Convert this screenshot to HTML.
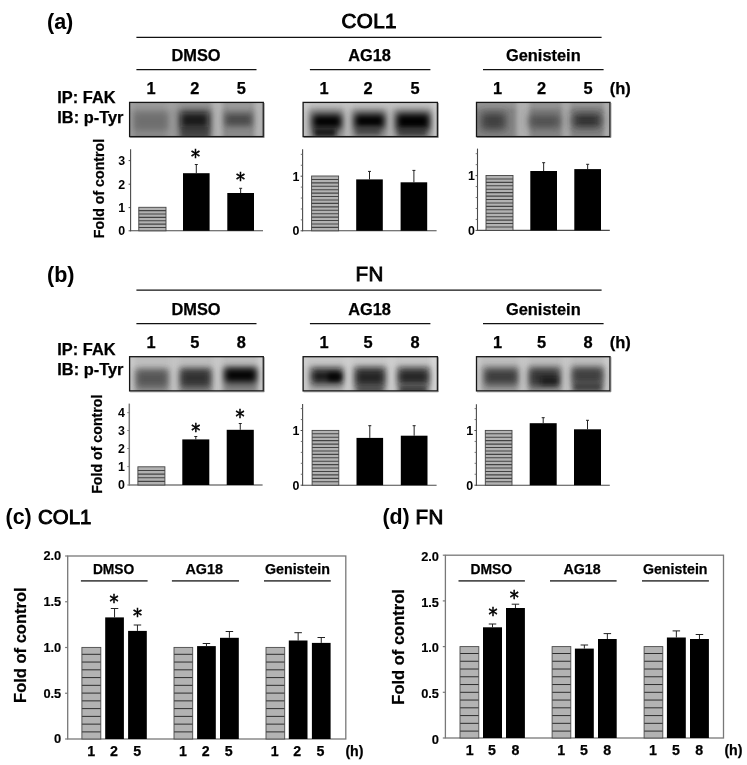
<!DOCTYPE html>
<html lang="en"><head><meta charset="utf-8"><title>Figure</title>
<style>html,body{margin:0;padding:0;background:#fff;}svg{display:block;}text{font-family:"Liberation Sans", sans-serif;stroke:#000;stroke-width:0.25px;}.st{font-family:"DejaVu Sans","Liberation Sans",sans-serif;stroke-width:0.6px;}</style></head><body>
<svg width="747" height="765" viewBox="0 0 747 765">
<defs>
<pattern id="h1" width="4" height="2.93" patternUnits="userSpaceOnUse" y="0"><rect width="4" height="2.93" fill="#b4b4b4"/><rect width="4" height="1" y="0" fill="#4a4a4a"/></pattern>
<pattern id="h2" width="4" height="7.7" patternUnits="userSpaceOnUse"><rect width="4" height="7.7" fill="#b2b2b2"/><rect width="4" height="1" y="0" fill="#3a3a3a"/></pattern>
<filter id="b1" x="-50%" y="-50%" width="200%" height="200%"><feGaussianBlur stdDeviation="1"/></filter>
<filter id="b2" x="-50%" y="-50%" width="200%" height="200%"><feGaussianBlur stdDeviation="2"/></filter>
<filter id="b3" x="-50%" y="-50%" width="200%" height="200%"><feGaussianBlur stdDeviation="3"/></filter>
<filter id="b4" x="-50%" y="-50%" width="200%" height="200%"><feGaussianBlur stdDeviation="4"/></filter>
<filter id="b5" x="-50%" y="-50%" width="200%" height="200%"><feGaussianBlur stdDeviation="5"/></filter>
</defs>
<rect width="747" height="765" fill="#fff"/>
<text x="47" y="28.9" font-size="21.5" text-anchor="start" font-weight="bold" fill="#000" style="stroke-width:0.05px">(a)</text>
<text x="369.2" y="28.15" font-size="20.6" text-anchor="middle" font-weight="normal" fill="#000" style="stroke-width:1.0px;letter-spacing:0.45px">COL1</text>
<line x1="136.4" y1="37.3" x2="601.6" y2="37.3" stroke="#111" stroke-width="1.2"/>
<text x="196" y="60.5" font-size="16.4" text-anchor="middle" font-weight="bold" fill="#000" >DMSO</text>
<line x1="136.4" y1="69.7" x2="256.5" y2="69.7" stroke="#111" stroke-width="1.2"/>
<text x="369.6" y="60.5" font-size="16.4" text-anchor="middle" font-weight="bold" fill="#000" >AG18</text>
<line x1="309.9" y1="69.7" x2="430.4" y2="69.7" stroke="#111" stroke-width="1.2"/>
<text x="543.3" y="60.5" font-size="16.4" text-anchor="middle" font-weight="bold" fill="#000" >Genistein</text>
<line x1="483" y1="69.7" x2="603.6" y2="69.7" stroke="#111" stroke-width="1.2"/>
<text x="151" y="93.5" font-size="16.4" text-anchor="middle" font-weight="bold" fill="#000" >1</text>
<text x="194.8" y="93.5" font-size="16.4" text-anchor="middle" font-weight="bold" fill="#000" >2</text>
<text x="241.2" y="93.5" font-size="16.4" text-anchor="middle" font-weight="bold" fill="#000" >5</text>
<text x="324" y="93.5" font-size="16.4" text-anchor="middle" font-weight="bold" fill="#000" >1</text>
<text x="368" y="93.5" font-size="16.4" text-anchor="middle" font-weight="bold" fill="#000" >2</text>
<text x="415" y="93.5" font-size="16.4" text-anchor="middle" font-weight="bold" fill="#000" >5</text>
<text x="497.5" y="93.5" font-size="16.4" text-anchor="middle" font-weight="bold" fill="#000" >1</text>
<text x="541.6" y="93.5" font-size="16.4" text-anchor="middle" font-weight="bold" fill="#000" >2</text>
<text x="588" y="93.5" font-size="16.4" text-anchor="middle" font-weight="bold" fill="#000" >5</text>
<text x="609.7" y="93.5" font-size="16.5" text-anchor="start" font-weight="bold" fill="#000" >(h)</text>
<text x="57.3" y="102.9" font-size="16.4" text-anchor="start" font-weight="bold" fill="#000" >IP: FAK</text>
<text x="57.3" y="122.6" font-size="16.4" text-anchor="start" font-weight="bold" fill="#000" >IB: p-Tyr</text>
<text x="47" y="281.8" font-size="21.5" text-anchor="start" font-weight="bold" fill="#000" style="stroke-width:0.05px">(b)</text>
<text x="369.7" y="281.4" font-size="20.6" text-anchor="middle" font-weight="normal" fill="#000" style="stroke-width:0.85px;letter-spacing:0.5px">FN</text>
<line x1="136.4" y1="290.2" x2="601.6" y2="290.2" stroke="#111" stroke-width="1.2"/>
<text x="196" y="314.6" font-size="16.4" text-anchor="middle" font-weight="bold" fill="#000" >DMSO</text>
<line x1="136.4" y1="323.7" x2="256.5" y2="323.7" stroke="#111" stroke-width="1.2"/>
<text x="369.6" y="314.6" font-size="16.4" text-anchor="middle" font-weight="bold" fill="#000" >AG18</text>
<line x1="309.9" y1="323.7" x2="430.4" y2="323.7" stroke="#111" stroke-width="1.2"/>
<text x="543.3" y="314.6" font-size="16.4" text-anchor="middle" font-weight="bold" fill="#000" >Genistein</text>
<line x1="483" y1="323.7" x2="603.6" y2="323.7" stroke="#111" stroke-width="1.2"/>
<text x="151" y="347.9" font-size="16.4" text-anchor="middle" font-weight="bold" fill="#000" >1</text>
<text x="194.8" y="347.9" font-size="16.4" text-anchor="middle" font-weight="bold" fill="#000" >5</text>
<text x="241.2" y="347.9" font-size="16.4" text-anchor="middle" font-weight="bold" fill="#000" >8</text>
<text x="324" y="347.9" font-size="16.4" text-anchor="middle" font-weight="bold" fill="#000" >1</text>
<text x="368" y="347.9" font-size="16.4" text-anchor="middle" font-weight="bold" fill="#000" >5</text>
<text x="415" y="347.9" font-size="16.4" text-anchor="middle" font-weight="bold" fill="#000" >8</text>
<text x="497.5" y="347.9" font-size="16.4" text-anchor="middle" font-weight="bold" fill="#000" >1</text>
<text x="541.6" y="347.9" font-size="16.4" text-anchor="middle" font-weight="bold" fill="#000" >5</text>
<text x="588" y="347.9" font-size="16.4" text-anchor="middle" font-weight="bold" fill="#000" >8</text>
<text x="609.7" y="347.9" font-size="16.5" text-anchor="start" font-weight="bold" fill="#000" >(h)</text>
<text x="57.3" y="355.3" font-size="16.4" text-anchor="start" font-weight="bold" fill="#000" >IP: FAK</text>
<text x="57.3" y="375.0" font-size="16.4" text-anchor="start" font-weight="bold" fill="#000" >IB: p-Tyr</text>
<clipPath id="bc1"><rect x="129.6" y="102.4" width="133.7" height="34.2"/></clipPath>
<g clip-path="url(#bc1)">
<rect x="124.6" y="97.4" width="143.7" height="44.2" fill="#8a8a8a"/>
<rect x="125" y="98.4" width="142" height="11" fill="#a0a0a0" opacity="0.7" filter="url(#b2)"/>
<rect x="129" y="98.4" width="5" height="42.2" fill="#a8a8a8" opacity="0.6" filter="url(#b2)"/>
<rect x="167" y="98.4" width="11" height="42.2" fill="#a6a6a6" opacity="0.65" filter="url(#b3)"/>
<rect x="211.5" y="98.4" width="11" height="42.2" fill="#b8b8b8" opacity="0.9" filter="url(#b2)"/>
<rect x="254.5" y="98.4" width="10" height="42.2" fill="#b8b8b8" opacity="0.9" filter="url(#b2)"/>
<rect x="134" y="113" width="34" height="17" fill="#606060" opacity="0.65" filter="url(#b3)"/>
<rect x="179" y="109" width="32" height="29" fill="#444" opacity="0.55" filter="url(#b4)"/>
<rect x="181" y="113" width="27" height="14.5" fill="#080808" opacity="0.85" filter="url(#b3)"/>
<rect x="181" y="127" width="28" height="11" fill="#2c2c2c" opacity="0.6" filter="url(#b2)"/>
<rect x="225" y="113.5" width="27" height="12.5" fill="#363636" opacity="0.75" filter="url(#b3)"/>
</g>
<rect x="129.6" y="102.4" width="133.7" height="34.2" fill="none" stroke="#151515" stroke-width="1.3"/>
<path d="M264.20 102.90V137.50H130.10" fill="none" stroke="#666" stroke-width="0.7"/>
<clipPath id="bc2"><rect x="303.1" y="102.4" width="134.3" height="34.2"/></clipPath>
<g clip-path="url(#bc2)">
<rect x="298.1" y="97.4" width="144.3" height="44.2" fill="#adadad"/>
<rect x="298" y="98.4" width="142" height="10" fill="#c8c8c8" opacity="0.9" filter="url(#b2)"/>
<rect x="302" y="98.4" width="7" height="42.2" fill="#d0d0d0" opacity="0.85" filter="url(#b2)"/>
<rect x="343.5" y="98.4" width="8" height="42.2" fill="#c8c8c8" opacity="0.9" filter="url(#b2)"/>
<rect x="386.5" y="98.4" width="7" height="42.2" fill="#c4c4c4" opacity="0.9" filter="url(#b2)"/>
<rect x="432" y="98.4" width="7" height="42.2" fill="#d2d2d2" opacity="0.9" filter="url(#b2)"/>
<rect x="309" y="110" width="34" height="28" fill="#505050" opacity="0.6" filter="url(#b4)"/>
<rect x="352" y="110" width="34" height="28" fill="#505050" opacity="0.6" filter="url(#b4)"/>
<rect x="394" y="110" width="37" height="28" fill="#505050" opacity="0.6" filter="url(#b4)"/>
<rect x="313" y="115" width="28" height="13" fill="#000" opacity="1.0" filter="url(#b3)"/>
<rect x="314" y="128" width="22" height="9" fill="#0a0a0a" opacity="0.85" filter="url(#b2)"/>
<rect x="355" y="114.5" width="29" height="13.0" fill="#000" opacity="1.0" filter="url(#b3)"/>
<rect x="356" y="127" width="24" height="8" fill="#333" opacity="0.6" filter="url(#b2)"/>
<rect x="397" y="114" width="32" height="15" fill="#050505" opacity="1.0" filter="url(#b3)"/>
<rect x="398" y="128" width="28" height="8" fill="#2a2a2a" opacity="0.7" filter="url(#b2)"/>
</g>
<rect x="303.1" y="102.4" width="134.3" height="34.2" fill="none" stroke="#151515" stroke-width="1.3"/>
<path d="M438.30 102.90V137.50H303.60" fill="none" stroke="#666" stroke-width="0.7"/>
<clipPath id="bc3"><rect x="476.5" y="102.4" width="133.5" height="34.2"/></clipPath>
<g clip-path="url(#bc3)">
<rect x="471.5" y="97.4" width="143.5" height="44.2" fill="#868686"/>
<rect x="472" y="98.4" width="142" height="10" fill="#9a9a9a" opacity="0.7" filter="url(#b2)"/>
<rect x="516.5" y="98.4" width="13" height="42.2" fill="#b4b4b4" opacity="0.9" filter="url(#b2)"/>
<rect x="561.5" y="98.4" width="9" height="42.2" fill="#ababab" opacity="0.9" filter="url(#b2)"/>
<rect x="603.5" y="98.4" width="8" height="42.2" fill="#b0b0b0" opacity="0.9" filter="url(#b2)"/>
<rect x="481" y="112.5" width="25" height="17.5" fill="#333" opacity="0.85" filter="url(#b4)"/>
<rect x="529" y="114.5" width="31" height="13.5" fill="#404040" opacity="0.8" filter="url(#b4)"/>
<rect x="573" y="113.5" width="28" height="14.0" fill="#222" opacity="0.9" filter="url(#b4)"/>
</g>
<rect x="476.5" y="102.4" width="133.5" height="34.2" fill="none" stroke="#151515" stroke-width="1.3"/>
<path d="M610.90 102.90V137.50H477.00" fill="none" stroke="#666" stroke-width="0.7"/>
<clipPath id="bc4"><rect x="129.6" y="356.7" width="133.7" height="34.2"/></clipPath>
<g clip-path="url(#bc4)">
<rect x="124.6" y="351.7" width="143.7" height="44.2" fill="#b0b0b0"/>
<rect x="125" y="352.7" width="142" height="15" fill="#c0c0c0" opacity="0.9" filter="url(#b2)"/>
<rect x="129" y="352.7" width="6" height="42.2" fill="#cccccc" opacity="0.8" filter="url(#b2)"/>
<rect x="169" y="352.7" width="11" height="42.2" fill="#c4c4c4" opacity="0.9" filter="url(#b2)"/>
<rect x="212.5" y="352.7" width="10" height="42.2" fill="#c8c8c8" opacity="0.9" filter="url(#b2)"/>
<rect x="257.5" y="352.7" width="7" height="42.2" fill="#d0d0d0" opacity="0.9" filter="url(#b2)"/>
<rect x="136" y="369" width="32" height="23" fill="#6a6a6a" opacity="0.7" filter="url(#b3)"/>
<rect x="137" y="371" width="30" height="15" fill="#4a4a4a" opacity="0.75" filter="url(#b3)"/>
<rect x="180" y="368" width="31" height="25" fill="#5a5a5a" opacity="0.7" filter="url(#b3)"/>
<rect x="181" y="370" width="29" height="16" fill="#262626" opacity="0.85" filter="url(#b3)"/>
<rect x="224" y="367" width="33" height="25" fill="#606060" opacity="0.7" filter="url(#b3)"/>
<rect x="225" y="368.5" width="31" height="13.5" fill="#050505" opacity="0.97" filter="url(#b3)"/>
</g>
<rect x="129.6" y="356.7" width="133.7" height="34.2" fill="none" stroke="#151515" stroke-width="1.3"/>
<path d="M264.20 357.20V391.80H130.10" fill="none" stroke="#666" stroke-width="0.7"/>
<clipPath id="bc5"><rect x="303.1" y="356.7" width="134.3" height="34.2"/></clipPath>
<g clip-path="url(#bc5)">
<rect x="298.1" y="351.7" width="144.3" height="44.2" fill="#b6b6b6"/>
<rect x="298" y="352.7" width="142" height="13" fill="#cacaca" opacity="0.9" filter="url(#b2)"/>
<rect x="302" y="352.7" width="6" height="42.2" fill="#d0d0d0" opacity="0.8" filter="url(#b2)"/>
<rect x="343" y="352.7" width="10" height="42.2" fill="#cecece" opacity="0.9" filter="url(#b2)"/>
<rect x="386.5" y="352.7" width="10" height="42.2" fill="#cecece" opacity="0.9" filter="url(#b2)"/>
<rect x="430.5" y="352.7" width="8" height="42.2" fill="#d6d6d6" opacity="0.9" filter="url(#b2)"/>
<rect x="311" y="367" width="32" height="21" fill="#666" opacity="0.65" filter="url(#b3)"/>
<rect x="355" y="367" width="30" height="26" fill="#5c5c5c" opacity="0.7" filter="url(#b3)"/>
<rect x="398" y="367" width="31" height="26" fill="#5c5c5c" opacity="0.7" filter="url(#b3)"/>
<rect x="312" y="370" width="30" height="12.5" fill="#141414" opacity="0.95" filter="url(#b3)"/>
<rect x="328" y="373" width="13" height="8" fill="#000" opacity="0.8" filter="url(#b2)"/>
<rect x="356" y="369.5" width="28" height="15.5" fill="#1c1c1c" opacity="0.9" filter="url(#b3)"/>
<rect x="358" y="386" width="24" height="6" fill="#333" opacity="0.6" filter="url(#b2)"/>
<rect x="399" y="370" width="29" height="13.5" fill="#1a1a1a" opacity="0.9" filter="url(#b3)"/>
<rect x="400" y="387" width="26" height="5" fill="#1c1c1c" opacity="0.75" filter="url(#b2)"/>
</g>
<rect x="303.1" y="356.7" width="134.3" height="34.2" fill="none" stroke="#151515" stroke-width="1.3"/>
<path d="M438.30 357.20V391.80H303.60" fill="none" stroke="#666" stroke-width="0.7"/>
<clipPath id="bc6"><rect x="476.5" y="356.7" width="133.5" height="34.2"/></clipPath>
<g clip-path="url(#bc6)">
<rect x="471.5" y="351.7" width="143.5" height="44.2" fill="#aeaeae"/>
<rect x="472" y="352.7" width="142" height="13" fill="#c0c0c0" opacity="0.9" filter="url(#b2)"/>
<rect x="475" y="352.7" width="6" height="42.2" fill="#cccccc" opacity="0.8" filter="url(#b2)"/>
<rect x="518" y="352.7" width="11" height="42.2" fill="#c6c6c6" opacity="0.9" filter="url(#b2)"/>
<rect x="561.5" y="352.7" width="10" height="42.2" fill="#c6c6c6" opacity="0.9" filter="url(#b2)"/>
<rect x="604" y="352.7" width="8" height="42.2" fill="#cccccc" opacity="0.9" filter="url(#b2)"/>
<rect x="484" y="367" width="34" height="22" fill="#666" opacity="0.65" filter="url(#b3)"/>
<rect x="529" y="367" width="31" height="24" fill="#606060" opacity="0.7" filter="url(#b3)"/>
<rect x="572" y="367" width="31" height="26" fill="#5c5c5c" opacity="0.7" filter="url(#b3)"/>
<rect x="485" y="370" width="32" height="13.5" fill="#303030" opacity="0.85" filter="url(#b3)"/>
<rect x="530" y="369.5" width="29" height="16.0" fill="#2a2a2a" opacity="0.88" filter="url(#b3)"/>
<rect x="541" y="377" width="17" height="8" fill="#0c0c0c" opacity="0.6" filter="url(#b2)"/>
<rect x="573" y="369" width="29" height="13.5" fill="#343434" opacity="0.85" filter="url(#b3)"/>
<rect x="574" y="383" width="27" height="7.5" fill="#303030" opacity="0.75" filter="url(#b2)"/>
</g>
<rect x="476.5" y="356.7" width="133.5" height="34.2" fill="none" stroke="#151515" stroke-width="1.3"/>
<path d="M610.90 357.20V391.80H477.00" fill="none" stroke="#666" stroke-width="0.7"/>
<line x1="130.6" y1="149.2" x2="130.6" y2="231.3" stroke="#4a4a4a" stroke-width="1.1"/>
<line x1="130.1" y1="230.8" x2="263" y2="230.8" stroke="#4a4a4a" stroke-width="1.1"/>
<line x1="128.6" y1="160.6" x2="130.6" y2="160.6" stroke="#4a4a4a" stroke-width="1"/>
<text x="125.2" y="164.9" font-size="12.4" text-anchor="end" font-weight="bold" fill="#000" style="stroke-width:0">3</text>
<line x1="128.6" y1="184.2" x2="130.6" y2="184.2" stroke="#4a4a4a" stroke-width="1"/>
<text x="125.2" y="188.5" font-size="12.4" text-anchor="end" font-weight="bold" fill="#000" style="stroke-width:0">2</text>
<line x1="128.6" y1="207.6" x2="130.6" y2="207.6" stroke="#4a4a4a" stroke-width="1"/>
<text x="125.2" y="211.9" font-size="12.4" text-anchor="end" font-weight="bold" fill="#000" style="stroke-width:0">1</text>
<line x1="128.6" y1="230.8" x2="130.6" y2="230.8" stroke="#4a4a4a" stroke-width="1"/>
<text x="125.2" y="235.10000000000002" font-size="12.4" text-anchor="end" font-weight="bold" fill="#000" style="stroke-width:0">0</text>
<rect x="138.80" y="207.30" width="27.20" height="23.50" fill="#b2b2b2"/>
<path d="M138.80 210.66H166.00M138.80 214.01H166.00M138.80 217.37H166.00M138.80 220.73H166.00M138.80 224.09H166.00M138.80 227.44H166.00" stroke="#444" stroke-width="1.1" fill="none"/>
<rect x="138.80" y="207.30" width="27.20" height="23.50" fill="none" stroke="#444" stroke-width="0.9"/>
<line x1="196.3" y1="164.5" x2="196.3" y2="173.2" stroke="#222" stroke-width="1"/>
<line x1="194.8" y1="164.5" x2="197.8" y2="164.5" stroke="#222" stroke-width="1"/>
<rect x="183.00" y="173.20" width="26.60" height="57.60" fill="#000" />
<line x1="240.65" y1="188.3" x2="240.65" y2="193" stroke="#222" stroke-width="1"/>
<line x1="239.15" y1="188.3" x2="242.15" y2="188.3" stroke="#222" stroke-width="1"/>
<rect x="227.30" y="193.00" width="26.70" height="37.80" fill="#000" />
<text transform="translate(195.4,152.6) scale(0.9,1)" x="0.1" y="10.40" font-size="20" text-anchor="middle" font-weight="normal" class="st">*</text>
<text transform="translate(240.4,175.8) scale(0.9,1)" x="0.1" y="10.40" font-size="20" text-anchor="middle" font-weight="normal" class="st">*</text>
<text transform="translate(103.9,188.5) rotate(-90)" font-size="14.2" text-anchor="middle" font-weight="bold">Fold of control</text>
<line x1="302.6" y1="149.2" x2="302.6" y2="231.3" stroke="#4a4a4a" stroke-width="1.1"/>
<line x1="302.1" y1="230.8" x2="436.6" y2="230.8" stroke="#4a4a4a" stroke-width="1.1"/>
<line x1="300.6" y1="176.2" x2="302.6" y2="176.2" stroke="#4a4a4a" stroke-width="1"/>
<text x="299.3" y="180.5" font-size="12.4" text-anchor="end" font-weight="bold" fill="#000" style="stroke-width:0">1</text>
<line x1="300.6" y1="230.8" x2="302.6" y2="230.8" stroke="#4a4a4a" stroke-width="1"/>
<text x="299.3" y="235.10000000000002" font-size="12.4" text-anchor="end" font-weight="bold" fill="#000" style="stroke-width:0">0</text>
<line x1="300.8" y1="219.88" x2="302.6" y2="219.88" stroke="#666" stroke-width="0.9"/>
<line x1="300.8" y1="208.96" x2="302.6" y2="208.96" stroke="#666" stroke-width="0.9"/>
<line x1="300.8" y1="198.04" x2="302.6" y2="198.04" stroke="#666" stroke-width="0.9"/>
<line x1="300.8" y1="187.12" x2="302.6" y2="187.12" stroke="#666" stroke-width="0.9"/>
<line x1="300.8" y1="165.27999999999997" x2="302.6" y2="165.27999999999997" stroke="#666" stroke-width="0.9"/>
<line x1="300.8" y1="154.35999999999996" x2="302.6" y2="154.35999999999996" stroke="#666" stroke-width="0.9"/>
<rect x="311.60" y="176.00" width="27.00" height="54.80" fill="#b2b2b2"/>
<path d="M311.60 179.43H338.60M311.60 182.85H338.60M311.60 186.28H338.60M311.60 189.70H338.60M311.60 193.12H338.60M311.60 196.55H338.60M311.60 199.97H338.60M311.60 203.40H338.60M311.60 206.83H338.60M311.60 210.25H338.60M311.60 213.68H338.60M311.60 217.10H338.60M311.60 220.53H338.60M311.60 223.95H338.60M311.60 227.38H338.60" stroke="#444" stroke-width="1.1" fill="none"/>
<rect x="311.60" y="176.00" width="27.00" height="54.80" fill="none" stroke="#444" stroke-width="0.9"/>
<line x1="369.5" y1="171.4" x2="369.5" y2="179.4" stroke="#222" stroke-width="1"/>
<line x1="368.0" y1="171.4" x2="371.0" y2="171.4" stroke="#222" stroke-width="1"/>
<rect x="356.20" y="179.40" width="26.60" height="51.40" fill="#000" />
<line x1="413.9" y1="170.4" x2="413.9" y2="182.3" stroke="#222" stroke-width="1"/>
<line x1="412.4" y1="170.4" x2="415.4" y2="170.4" stroke="#222" stroke-width="1"/>
<rect x="400.60" y="182.30" width="26.60" height="48.50" fill="#000" />
<line x1="477.5" y1="148.6" x2="477.5" y2="230.9" stroke="#4a4a4a" stroke-width="1.1"/>
<line x1="477.0" y1="230.4" x2="609.8" y2="230.4" stroke="#4a4a4a" stroke-width="1.1"/>
<line x1="475.5" y1="175.6" x2="477.5" y2="175.6" stroke="#4a4a4a" stroke-width="1"/>
<text x="475.0" y="179.9" font-size="12.4" text-anchor="end" font-weight="bold" fill="#000" style="stroke-width:0">1</text>
<line x1="475.5" y1="230.4" x2="477.5" y2="230.4" stroke="#4a4a4a" stroke-width="1"/>
<text x="475.0" y="234.70000000000002" font-size="12.4" text-anchor="end" font-weight="bold" fill="#000" style="stroke-width:0">0</text>
<line x1="475.7" y1="219.44" x2="477.5" y2="219.44" stroke="#666" stroke-width="0.9"/>
<line x1="475.7" y1="208.48" x2="477.5" y2="208.48" stroke="#666" stroke-width="0.9"/>
<line x1="475.7" y1="197.51999999999998" x2="477.5" y2="197.51999999999998" stroke="#666" stroke-width="0.9"/>
<line x1="475.7" y1="186.56" x2="477.5" y2="186.56" stroke="#666" stroke-width="0.9"/>
<line x1="475.7" y1="164.64" x2="477.5" y2="164.64" stroke="#666" stroke-width="0.9"/>
<line x1="475.7" y1="153.68" x2="477.5" y2="153.68" stroke="#666" stroke-width="0.9"/>
<rect x="486.00" y="175.50" width="27.00" height="54.90" fill="#b2b2b2"/>
<path d="M486.00 178.93H513.00M486.00 182.36H513.00M486.00 185.79H513.00M486.00 189.22H513.00M486.00 192.66H513.00M486.00 196.09H513.00M486.00 199.52H513.00M486.00 202.95H513.00M486.00 206.38H513.00M486.00 209.81H513.00M486.00 213.24H513.00M486.00 216.68H513.00M486.00 220.11H513.00M486.00 223.54H513.00M486.00 226.97H513.00" stroke="#444" stroke-width="1.1" fill="none"/>
<rect x="486.00" y="175.50" width="27.00" height="54.90" fill="none" stroke="#444" stroke-width="0.9"/>
<line x1="543.65" y1="162.7" x2="543.65" y2="171" stroke="#222" stroke-width="1"/>
<line x1="542.15" y1="162.7" x2="545.15" y2="162.7" stroke="#222" stroke-width="1"/>
<rect x="530.30" y="171.00" width="26.70" height="59.40" fill="#000" />
<line x1="587.65" y1="164.3" x2="587.65" y2="169.1" stroke="#222" stroke-width="1"/>
<line x1="586.15" y1="164.3" x2="589.15" y2="164.3" stroke="#222" stroke-width="1"/>
<rect x="574.30" y="169.10" width="26.70" height="61.30" fill="#000" />
<line x1="129.3" y1="403.6" x2="129.3" y2="485.5" stroke="#7c7c7c" stroke-width="1.5"/>
<line x1="128.8" y1="485" x2="262.6" y2="485" stroke="#7c7c7c" stroke-width="1.5"/>
<line x1="127.30000000000001" y1="412.7" x2="129.3" y2="412.7" stroke="#7c7c7c" stroke-width="1"/>
<text x="125.0" y="417.0" font-size="12.4" text-anchor="end" font-weight="bold" fill="#000" style="stroke-width:0">4</text>
<line x1="127.30000000000001" y1="430.5" x2="129.3" y2="430.5" stroke="#7c7c7c" stroke-width="1"/>
<text x="125.0" y="434.8" font-size="12.4" text-anchor="end" font-weight="bold" fill="#000" style="stroke-width:0">3</text>
<line x1="127.30000000000001" y1="448.5" x2="129.3" y2="448.5" stroke="#7c7c7c" stroke-width="1"/>
<text x="125.0" y="452.8" font-size="12.4" text-anchor="end" font-weight="bold" fill="#000" style="stroke-width:0">2</text>
<line x1="127.30000000000001" y1="466.6" x2="129.3" y2="466.6" stroke="#7c7c7c" stroke-width="1"/>
<text x="125.0" y="470.90000000000003" font-size="12.4" text-anchor="end" font-weight="bold" fill="#000" style="stroke-width:0">1</text>
<line x1="127.30000000000001" y1="485" x2="129.3" y2="485" stroke="#7c7c7c" stroke-width="1"/>
<text x="125.0" y="489.3" font-size="12.4" text-anchor="end" font-weight="bold" fill="#000" style="stroke-width:0">0</text>
<rect x="137.90" y="466.80" width="27.00" height="18.20" fill="#b2b2b2"/>
<path d="M137.90 470.44H164.90M137.90 474.08H164.90M137.90 477.72H164.90M137.90 481.36H164.90" stroke="#444" stroke-width="1.1" fill="none"/>
<rect x="137.90" y="466.80" width="27.00" height="18.20" fill="none" stroke="#444" stroke-width="0.9"/>
<line x1="195.8" y1="436.5" x2="195.8" y2="439.4" stroke="#222" stroke-width="1"/>
<line x1="194.3" y1="436.5" x2="197.3" y2="436.5" stroke="#222" stroke-width="1"/>
<rect x="182.30" y="439.40" width="27.00" height="45.60" fill="#000" />
<line x1="240.25" y1="423.5" x2="240.25" y2="429.8" stroke="#222" stroke-width="1"/>
<line x1="238.75" y1="423.5" x2="241.75" y2="423.5" stroke="#222" stroke-width="1"/>
<rect x="226.70" y="429.80" width="27.10" height="55.20" fill="#000" />
<text transform="translate(195.7,426.3) scale(0.9,1)" x="0.1" y="10.40" font-size="20" text-anchor="middle" font-weight="normal" class="st">*</text>
<text transform="translate(239.8,412.4) scale(0.9,1)" x="0.1" y="10.40" font-size="20" text-anchor="middle" font-weight="normal" class="st">*</text>
<text transform="translate(102.2,444.2) rotate(-90)" font-size="14.2" text-anchor="middle" font-weight="bold">Fold of control</text>
<line x1="302.6" y1="403.9" x2="302.6" y2="485.7" stroke="#4a4a4a" stroke-width="1.1"/>
<line x1="302.1" y1="485.2" x2="436.6" y2="485.2" stroke="#4a4a4a" stroke-width="1.1"/>
<line x1="300.6" y1="430.5" x2="302.6" y2="430.5" stroke="#4a4a4a" stroke-width="1"/>
<text x="299.3" y="434.8" font-size="12.4" text-anchor="end" font-weight="bold" fill="#000" style="stroke-width:0">1</text>
<line x1="300.6" y1="485.2" x2="302.6" y2="485.2" stroke="#4a4a4a" stroke-width="1"/>
<text x="299.3" y="489.5" font-size="12.4" text-anchor="end" font-weight="bold" fill="#000" style="stroke-width:0">0</text>
<line x1="300.8" y1="474.26" x2="302.6" y2="474.26" stroke="#666" stroke-width="0.9"/>
<line x1="300.8" y1="463.32" x2="302.6" y2="463.32" stroke="#666" stroke-width="0.9"/>
<line x1="300.8" y1="452.38" x2="302.6" y2="452.38" stroke="#666" stroke-width="0.9"/>
<line x1="300.8" y1="441.44" x2="302.6" y2="441.44" stroke="#666" stroke-width="0.9"/>
<line x1="300.8" y1="419.56" x2="302.6" y2="419.56" stroke="#666" stroke-width="0.9"/>
<line x1="300.8" y1="408.62" x2="302.6" y2="408.62" stroke="#666" stroke-width="0.9"/>
<rect x="312.10" y="430.40" width="26.70" height="54.80" fill="#b2b2b2"/>
<path d="M312.10 433.82H338.80M312.10 437.25H338.80M312.10 440.67H338.80M312.10 444.10H338.80M312.10 447.52H338.80M312.10 450.95H338.80M312.10 454.38H338.80M312.10 457.80H338.80M312.10 461.22H338.80M312.10 464.65H338.80M312.10 468.07H338.80M312.10 471.50H338.80M312.10 474.92H338.80M312.10 478.35H338.80M312.10 481.77H338.80" stroke="#444" stroke-width="1.1" fill="none"/>
<rect x="312.10" y="430.40" width="26.70" height="54.80" fill="none" stroke="#444" stroke-width="0.9"/>
<line x1="369.8" y1="425.7" x2="369.8" y2="437.9" stroke="#222" stroke-width="1"/>
<line x1="368.3" y1="425.7" x2="371.3" y2="425.7" stroke="#222" stroke-width="1"/>
<rect x="356.50" y="437.90" width="26.60" height="47.30" fill="#000" />
<line x1="414.15" y1="425.7" x2="414.15" y2="435.7" stroke="#222" stroke-width="1"/>
<line x1="412.65" y1="425.7" x2="415.65" y2="425.7" stroke="#222" stroke-width="1"/>
<rect x="400.80" y="435.70" width="26.70" height="49.50" fill="#000" />
<line x1="476.4" y1="404.3" x2="476.4" y2="485.7" stroke="#4a4a4a" stroke-width="1.1"/>
<line x1="475.9" y1="485.2" x2="609.8" y2="485.2" stroke="#4a4a4a" stroke-width="1.1"/>
<line x1="474.4" y1="430.5" x2="476.4" y2="430.5" stroke="#4a4a4a" stroke-width="1"/>
<text x="473.1" y="434.8" font-size="12.4" text-anchor="end" font-weight="bold" fill="#000" style="stroke-width:0">1</text>
<line x1="474.4" y1="485.2" x2="476.4" y2="485.2" stroke="#4a4a4a" stroke-width="1"/>
<text x="473.1" y="489.5" font-size="12.4" text-anchor="end" font-weight="bold" fill="#000" style="stroke-width:0">0</text>
<line x1="474.59999999999997" y1="474.26" x2="476.4" y2="474.26" stroke="#666" stroke-width="0.9"/>
<line x1="474.59999999999997" y1="463.32" x2="476.4" y2="463.32" stroke="#666" stroke-width="0.9"/>
<line x1="474.59999999999997" y1="452.38" x2="476.4" y2="452.38" stroke="#666" stroke-width="0.9"/>
<line x1="474.59999999999997" y1="441.44" x2="476.4" y2="441.44" stroke="#666" stroke-width="0.9"/>
<line x1="474.59999999999997" y1="419.56" x2="476.4" y2="419.56" stroke="#666" stroke-width="0.9"/>
<line x1="474.59999999999997" y1="408.62" x2="476.4" y2="408.62" stroke="#666" stroke-width="0.9"/>
<rect x="485.30" y="430.40" width="26.70" height="54.80" fill="#b2b2b2"/>
<path d="M485.30 433.82H512.00M485.30 437.25H512.00M485.30 440.67H512.00M485.30 444.10H512.00M485.30 447.52H512.00M485.30 450.95H512.00M485.30 454.38H512.00M485.30 457.80H512.00M485.30 461.22H512.00M485.30 464.65H512.00M485.30 468.07H512.00M485.30 471.50H512.00M485.30 474.92H512.00M485.30 478.35H512.00M485.30 481.77H512.00" stroke="#444" stroke-width="1.1" fill="none"/>
<rect x="485.30" y="430.40" width="26.70" height="54.80" fill="none" stroke="#444" stroke-width="0.9"/>
<line x1="543.2" y1="417.7" x2="543.2" y2="423.2" stroke="#222" stroke-width="1"/>
<line x1="541.7" y1="417.7" x2="544.7" y2="417.7" stroke="#222" stroke-width="1"/>
<rect x="529.70" y="423.20" width="27.00" height="62.00" fill="#000" />
<line x1="587.5" y1="420.3" x2="587.5" y2="429.3" stroke="#222" stroke-width="1"/>
<line x1="586.0" y1="420.3" x2="589.0" y2="420.3" stroke="#222" stroke-width="1"/>
<rect x="574.00" y="429.30" width="27.00" height="55.90" fill="#000" />
<text x="5.6" y="524.2" font-size="21.4" text-anchor="start" font-weight="bold" fill="#000" style="stroke-width:0">(c)</text>
<text x="37.9" y="523.9" font-size="20.4" text-anchor="start" font-weight="normal" fill="#000" style="stroke-width:0.95px;letter-spacing:0.1px">COL1</text>
<rect x="67.7" y="556.0" width="278.10" height="183.00" fill="none" stroke="#787878" stroke-width="1.3"/>
<line x1="65.10000000000001" y1="739.0" x2="67.7" y2="739.0" stroke="#787878" stroke-width="1.2"/>
<text x="61.2" y="743.3" font-size="12.2" text-anchor="end" font-weight="bold" fill="#000" style="stroke-width:0.15px" textLength="7.2" lengthAdjust="spacingAndGlyphs">0</text>
<line x1="65.10000000000001" y1="693.25" x2="67.7" y2="693.25" stroke="#787878" stroke-width="1.2"/>
<text x="61.2" y="697.55" font-size="12.2" text-anchor="end" font-weight="bold" fill="#000" style="stroke-width:0.15px" textLength="17.8" lengthAdjust="spacingAndGlyphs">0.5</text>
<line x1="65.10000000000001" y1="647.5" x2="67.7" y2="647.5" stroke="#787878" stroke-width="1.2"/>
<text x="61.2" y="651.8" font-size="12.2" text-anchor="end" font-weight="bold" fill="#000" style="stroke-width:0.15px" textLength="17.8" lengthAdjust="spacingAndGlyphs">1.0</text>
<line x1="65.10000000000001" y1="601.75" x2="67.7" y2="601.75" stroke="#787878" stroke-width="1.2"/>
<text x="61.2" y="606.05" font-size="12.2" text-anchor="end" font-weight="bold" fill="#000" style="stroke-width:0.15px" textLength="17.8" lengthAdjust="spacingAndGlyphs">1.5</text>
<line x1="65.10000000000001" y1="556.0" x2="67.7" y2="556.0" stroke="#787878" stroke-width="1.2"/>
<text x="61.2" y="560.3" font-size="12.2" text-anchor="end" font-weight="bold" fill="#000" style="stroke-width:0.15px" textLength="17.8" lengthAdjust="spacingAndGlyphs">2.0</text>
<rect x="81.90" y="647.40" width="18.90" height="91.60" fill="#b3b3b3"/>
<path d="M81.90 654.30H100.80M81.90 662.06H100.80M81.90 669.82H100.80M81.90 677.58H100.80M81.90 685.34H100.80M81.90 693.10H100.80M81.90 700.86H100.80M81.90 708.62H100.80M81.90 716.38H100.80M81.90 724.14H100.80M81.90 731.90H100.80" stroke="#2e2e2e" stroke-width="1.0" fill="none"/>
<rect x="81.90" y="647.40" width="18.90" height="91.60" fill="none" stroke="#4a4a4a" stroke-width="0.9"/>
<line x1="114.55000000000001" y1="608.5" x2="114.55000000000001" y2="617.4" stroke="#222" stroke-width="1"/>
<line x1="110.80000000000001" y1="608.5" x2="118.30000000000001" y2="608.5" stroke="#222" stroke-width="1"/>
<rect x="105.20" y="617.40" width="18.70" height="121.60" fill="#000" />
<line x1="137.45" y1="625.0" x2="137.45" y2="630.9" stroke="#222" stroke-width="1"/>
<line x1="133.7" y1="625.0" x2="141.2" y2="625.0" stroke="#222" stroke-width="1"/>
<rect x="128.10" y="630.90" width="18.70" height="108.10" fill="#000" />
<rect x="174.00" y="647.40" width="18.70" height="91.60" fill="#b3b3b3"/>
<path d="M174.00 654.30H192.70M174.00 662.06H192.70M174.00 669.82H192.70M174.00 677.58H192.70M174.00 685.34H192.70M174.00 693.10H192.70M174.00 700.86H192.70M174.00 708.62H192.70M174.00 716.38H192.70M174.00 724.14H192.70M174.00 731.90H192.70" stroke="#2e2e2e" stroke-width="1.0" fill="none"/>
<rect x="174.00" y="647.40" width="18.70" height="91.60" fill="none" stroke="#4a4a4a" stroke-width="0.9"/>
<line x1="206.45" y1="643.5" x2="206.45" y2="646.1" stroke="#222" stroke-width="1"/>
<line x1="202.7" y1="643.5" x2="210.2" y2="643.5" stroke="#222" stroke-width="1"/>
<rect x="197.10" y="646.10" width="18.70" height="92.90" fill="#000" />
<line x1="229.4" y1="631.5" x2="229.4" y2="637.8" stroke="#222" stroke-width="1"/>
<line x1="225.65" y1="631.5" x2="233.15" y2="631.5" stroke="#222" stroke-width="1"/>
<rect x="220.00" y="637.80" width="18.80" height="101.20" fill="#000" />
<rect x="266.00" y="647.40" width="18.70" height="91.60" fill="#b3b3b3"/>
<path d="M266.00 654.30H284.70M266.00 662.06H284.70M266.00 669.82H284.70M266.00 677.58H284.70M266.00 685.34H284.70M266.00 693.10H284.70M266.00 700.86H284.70M266.00 708.62H284.70M266.00 716.38H284.70M266.00 724.14H284.70M266.00 731.90H284.70" stroke="#2e2e2e" stroke-width="1.0" fill="none"/>
<rect x="266.00" y="647.40" width="18.70" height="91.60" fill="none" stroke="#4a4a4a" stroke-width="0.9"/>
<line x1="298.15" y1="632.7" x2="298.15" y2="640.5" stroke="#222" stroke-width="1"/>
<line x1="294.4" y1="632.7" x2="301.9" y2="632.7" stroke="#222" stroke-width="1"/>
<rect x="288.80" y="640.50" width="18.70" height="98.50" fill="#000" />
<line x1="321.25" y1="637.5" x2="321.25" y2="642.9" stroke="#222" stroke-width="1"/>
<line x1="317.5" y1="637.5" x2="325.0" y2="637.5" stroke="#222" stroke-width="1"/>
<rect x="311.90" y="642.90" width="18.70" height="96.10" fill="#000" />
<text x="91.3" y="755.8" font-size="14.2" text-anchor="middle" font-weight="bold" fill="#000" >1</text>
<text x="114.0" y="755.8" font-size="14.2" text-anchor="middle" font-weight="bold" fill="#000" >2</text>
<text x="137.10000000000002" y="755.8" font-size="14.2" text-anchor="middle" font-weight="bold" fill="#000" >5</text>
<text x="182.9" y="755.8" font-size="14.2" text-anchor="middle" font-weight="bold" fill="#000" >1</text>
<text x="205.70000000000002" y="755.8" font-size="14.2" text-anchor="middle" font-weight="bold" fill="#000" >2</text>
<text x="228.70000000000002" y="755.8" font-size="14.2" text-anchor="middle" font-weight="bold" fill="#000" >5</text>
<text x="274.7" y="755.8" font-size="14.2" text-anchor="middle" font-weight="bold" fill="#000" >1</text>
<text x="297.1" y="755.8" font-size="14.2" text-anchor="middle" font-weight="bold" fill="#000" >2</text>
<text x="320.5" y="755.8" font-size="14.2" text-anchor="middle" font-weight="bold" fill="#000" >5</text>
<text x="345.4" y="755.8" font-size="14.2" text-anchor="start" font-weight="bold" fill="#000" >(h)</text>
<text x="113.6" y="573.9" font-size="14.4" text-anchor="middle" font-weight="bold" fill="#000" textLength="41.4" lengthAdjust="spacingAndGlyphs">DMSO</text>
<line x1="80.9" y1="580.9" x2="147.6" y2="580.9" stroke="#505050" stroke-width="1.7"/>
<text x="204.2" y="573.9" font-size="14.4" text-anchor="middle" font-weight="bold" fill="#000" textLength="37.5" lengthAdjust="spacingAndGlyphs">AG18</text>
<line x1="171.9" y1="580.9" x2="239" y2="580.9" stroke="#505050" stroke-width="1.7"/>
<text x="297.4" y="573.9" font-size="14.4" text-anchor="middle" font-weight="bold" fill="#000" textLength="65" lengthAdjust="spacingAndGlyphs">Genistein</text>
<line x1="264" y1="580.9" x2="330.8" y2="580.9" stroke="#505050" stroke-width="1.7"/>
<text transform="translate(114,597.2) scale(0.9,1)" x="0.1" y="10.40" font-size="20" text-anchor="middle" font-weight="normal" class="st">*</text>
<text transform="translate(137.4,611.7) scale(0.9,1)" x="0.1" y="10.40" font-size="20" text-anchor="middle" font-weight="normal" class="st">*</text>
<text transform="translate(25.6,645.2) rotate(-90)" font-size="16.5" text-anchor="middle" font-weight="bold">Fold of control</text>
<text x="382.4" y="524.2" font-size="21.4" text-anchor="start" font-weight="bold" fill="#000" style="stroke-width:0">(d)</text>
<text x="415.6" y="524.1" font-size="20.5" text-anchor="start" font-weight="normal" fill="#000" style="stroke-width:0.95px;letter-spacing:0.5px">FN</text>
<rect x="445.4" y="555.2" width="278.10" height="182.80" fill="none" stroke="#787878" stroke-width="1.3"/>
<line x1="442.79999999999995" y1="738.0" x2="445.4" y2="738.0" stroke="#787878" stroke-width="1.2"/>
<text x="439" y="743.5999999999999" font-size="12.2" text-anchor="end" font-weight="bold" fill="#000" style="stroke-width:0.15px" textLength="7.2" lengthAdjust="spacingAndGlyphs">0</text>
<line x1="442.79999999999995" y1="692.3" x2="445.4" y2="692.3" stroke="#787878" stroke-width="1.2"/>
<text x="439" y="697.8999999999999" font-size="12.2" text-anchor="end" font-weight="bold" fill="#000" style="stroke-width:0.15px" textLength="17.8" lengthAdjust="spacingAndGlyphs">0.5</text>
<line x1="442.79999999999995" y1="646.6" x2="445.4" y2="646.6" stroke="#787878" stroke-width="1.2"/>
<text x="439" y="652.1999999999999" font-size="12.2" text-anchor="end" font-weight="bold" fill="#000" style="stroke-width:0.15px" textLength="17.8" lengthAdjust="spacingAndGlyphs">1.0</text>
<line x1="442.79999999999995" y1="600.9000000000001" x2="445.4" y2="600.9000000000001" stroke="#787878" stroke-width="1.2"/>
<text x="439" y="606.5" font-size="12.2" text-anchor="end" font-weight="bold" fill="#000" style="stroke-width:0.15px" textLength="17.8" lengthAdjust="spacingAndGlyphs">1.5</text>
<line x1="442.79999999999995" y1="555.2" x2="445.4" y2="555.2" stroke="#787878" stroke-width="1.2"/>
<text x="439" y="560.8" font-size="12.2" text-anchor="end" font-weight="bold" fill="#000" style="stroke-width:0.15px" textLength="17.8" lengthAdjust="spacingAndGlyphs">2.0</text>
<rect x="460.00" y="646.60" width="18.80" height="91.40" fill="#b3b3b3"/>
<path d="M460.00 653.50H478.80M460.00 661.26H478.80M460.00 669.02H478.80M460.00 676.78H478.80M460.00 684.54H478.80M460.00 692.30H478.80M460.00 700.06H478.80M460.00 707.82H478.80M460.00 715.58H478.80M460.00 723.34H478.80M460.00 731.10H478.80" stroke="#2e2e2e" stroke-width="1.0" fill="none"/>
<rect x="460.00" y="646.60" width="18.80" height="91.40" fill="none" stroke="#4a4a4a" stroke-width="0.9"/>
<line x1="492.5" y1="624.0" x2="492.5" y2="627.3" stroke="#222" stroke-width="1"/>
<line x1="488.75" y1="624.0" x2="496.25" y2="624.0" stroke="#222" stroke-width="1"/>
<rect x="483.00" y="627.30" width="19.00" height="110.70" fill="#000" />
<line x1="515.45" y1="604.2" x2="515.45" y2="608.0" stroke="#222" stroke-width="1"/>
<line x1="511.70000000000005" y1="604.2" x2="519.2" y2="604.2" stroke="#222" stroke-width="1"/>
<rect x="506.00" y="608.00" width="18.90" height="130.00" fill="#000" />
<rect x="552.10" y="646.60" width="18.70" height="91.40" fill="#b3b3b3"/>
<path d="M552.10 653.50H570.80M552.10 661.26H570.80M552.10 669.02H570.80M552.10 676.78H570.80M552.10 684.54H570.80M552.10 692.30H570.80M552.10 700.06H570.80M552.10 707.82H570.80M552.10 715.58H570.80M552.10 723.34H570.80M552.10 731.10H570.80" stroke="#2e2e2e" stroke-width="1.0" fill="none"/>
<rect x="552.10" y="646.60" width="18.70" height="91.40" fill="none" stroke="#4a4a4a" stroke-width="0.9"/>
<line x1="584.3499999999999" y1="645.0" x2="584.3499999999999" y2="648.6" stroke="#222" stroke-width="1"/>
<line x1="580.5999999999999" y1="645.0" x2="588.0999999999999" y2="645.0" stroke="#222" stroke-width="1"/>
<rect x="574.90" y="648.60" width="18.90" height="89.40" fill="#000" />
<line x1="607.35" y1="633.6" x2="607.35" y2="639.0" stroke="#222" stroke-width="1"/>
<line x1="603.6" y1="633.6" x2="611.1" y2="633.6" stroke="#222" stroke-width="1"/>
<rect x="598.00" y="639.00" width="18.70" height="99.00" fill="#000" />
<rect x="644.10" y="646.60" width="18.70" height="91.40" fill="#b3b3b3"/>
<path d="M644.10 653.50H662.80M644.10 661.26H662.80M644.10 669.02H662.80M644.10 676.78H662.80M644.10 684.54H662.80M644.10 692.30H662.80M644.10 700.06H662.80M644.10 707.82H662.80M644.10 715.58H662.80M644.10 723.34H662.80M644.10 731.10H662.80" stroke="#2e2e2e" stroke-width="1.0" fill="none"/>
<rect x="644.10" y="646.60" width="18.70" height="91.40" fill="none" stroke="#4a4a4a" stroke-width="0.9"/>
<line x1="676.3499999999999" y1="630.9" x2="676.3499999999999" y2="637.5" stroke="#222" stroke-width="1"/>
<line x1="672.5999999999999" y1="630.9" x2="680.0999999999999" y2="630.9" stroke="#222" stroke-width="1"/>
<rect x="666.90" y="637.50" width="18.90" height="100.50" fill="#000" />
<line x1="699.45" y1="634.5" x2="699.45" y2="639.0" stroke="#222" stroke-width="1"/>
<line x1="695.7" y1="634.5" x2="703.2" y2="634.5" stroke="#222" stroke-width="1"/>
<rect x="690.00" y="639.00" width="18.90" height="99.00" fill="#000" />
<text x="469.7" y="755.4" font-size="14.2" text-anchor="middle" font-weight="bold" fill="#000" >1</text>
<text x="491.90000000000003" y="755.4" font-size="14.2" text-anchor="middle" font-weight="bold" fill="#000" >5</text>
<text x="515.5" y="755.4" font-size="14.2" text-anchor="middle" font-weight="bold" fill="#000" >8</text>
<text x="561.0999999999999" y="755.4" font-size="14.2" text-anchor="middle" font-weight="bold" fill="#000" >1</text>
<text x="583.9" y="755.4" font-size="14.2" text-anchor="middle" font-weight="bold" fill="#000" >5</text>
<text x="607.0999999999999" y="755.4" font-size="14.2" text-anchor="middle" font-weight="bold" fill="#000" >8</text>
<text x="652.9" y="755.4" font-size="14.2" text-anchor="middle" font-weight="bold" fill="#000" >1</text>
<text x="675.9" y="755.4" font-size="14.2" text-anchor="middle" font-weight="bold" fill="#000" >5</text>
<text x="699.3" y="755.4" font-size="14.2" text-anchor="middle" font-weight="bold" fill="#000" >8</text>
<text x="724.4000000000001" y="755.4" font-size="14.2" text-anchor="start" font-weight="bold" fill="#000" >(h)</text>
<text x="491.2" y="573.9" font-size="14.4" text-anchor="middle" font-weight="bold" fill="#000" textLength="41.6" lengthAdjust="spacingAndGlyphs">DMSO</text>
<line x1="458.5" y1="580.9" x2="524.9" y2="580.9" stroke="#505050" stroke-width="1.7"/>
<text x="582" y="573.9" font-size="14.4" text-anchor="middle" font-weight="bold" fill="#000" textLength="37.2" lengthAdjust="spacingAndGlyphs">AG18</text>
<line x1="550" y1="580.9" x2="616.6" y2="580.9" stroke="#505050" stroke-width="1.7"/>
<text x="675.2" y="573.9" font-size="14.4" text-anchor="middle" font-weight="bold" fill="#000" textLength="64.6" lengthAdjust="spacingAndGlyphs">Genistein</text>
<line x1="642" y1="580.9" x2="708.9" y2="580.9" stroke="#505050" stroke-width="1.7"/>
<text transform="translate(492.8,610.5) scale(0.9,1)" x="0.1" y="10.40" font-size="20" text-anchor="middle" font-weight="normal" class="st">*</text>
<text transform="translate(514.2,593.2) scale(0.9,1)" x="0.1" y="10.40" font-size="20" text-anchor="middle" font-weight="normal" class="st">*</text>
<text transform="translate(404.3,646.9) rotate(-90)" font-size="16.5" text-anchor="middle" font-weight="bold">Fold of control</text>
</svg></body></html>
